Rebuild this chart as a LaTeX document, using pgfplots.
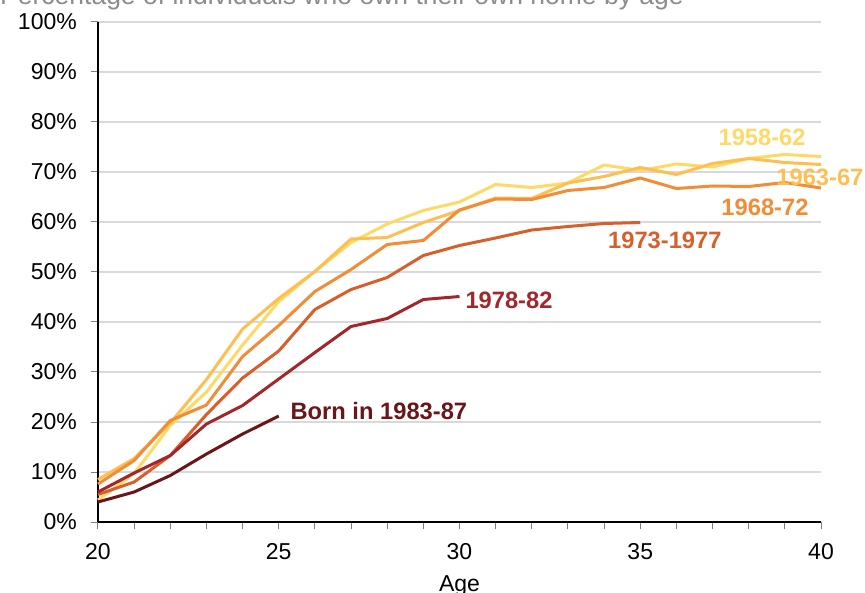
\documentclass[border=0pt]{standalone}
\usepackage{fontspec}
\setmainfont{Liberation Sans}
\usepackage{pgfplots}
\pgfplotsset{compat=1.18}
\definecolor{c58}{HTML}{FFD966}
\definecolor{c63}{HTML}{FFBF50}
\definecolor{c68}{HTML}{F28C36}
\definecolor{c73}{HTML}{D75F2B}
\definecolor{c78}{HTML}{A3262B}
\definecolor{c83}{HTML}{6B1518}
\definecolor{gridc}{HTML}{D9D9D9}
\definecolor{titlec}{HTML}{8C8C8C}
\definecolor{tickc}{HTML}{7F7F7F}

\pgfplotstableread{
age v
20 4.4
21 9.7
22 19.3
23 26.0
24 35.4
25 44.1
26 50.1
27 55.9
28 59.6
29 62.3
30 64.0
31 67.5
32 66.9
33 67.8
34 71.4
35 70.3
36 71.6
37 71.0
38 72.7
39 73.5
40 73.1
}\dA
\pgfplotstableread{
age v
20 8.5
21 12.7
22 19.8
23 28.5
24 38.6
25 44.7
26 50.1
27 56.6
28 56.9
29 59.9
30 62.3
31 64.8
32 64.7
33 67.8
34 69.1
35 70.9
36 69.5
37 71.7
38 72.7
39 71.9
40 71.5
}\dB
\pgfplotstableread{
age v
20 7.6
21 12.3
22 20.3
23 23.4
24 33.1
25 39.3
26 46.1
27 50.5
28 55.5
29 56.3
30 62.4
31 64.6
32 64.5
33 66.3
34 66.9
35 68.8
36 66.7
37 67.2
38 67.1
39 67.9
40 66.8
}\dC
\pgfplotstableread{
age v
20 5.5
21 8.0
22 13.3
23 21.5
24 28.8
25 34.2
26 42.5
27 46.5
28 48.9
29 53.3
30 55.3
31 56.8
32 58.4
33 59.1
34 59.7
35 59.9
}\dD
\pgfplotstableread{
age v
20 6.0
21 9.8
22 13.3
23 19.6
24 23.3
25 28.6
26 33.9
27 39.1
28 40.7
29 44.5
30 45.1
}\dE
\pgfplotstableread{
age v
20 4.0
21 6.0
22 9.3
23 13.6
24 17.6
25 21.2
}\dF

\begin{document}
\begin{tikzpicture}[x=1pt,y=1pt]
\begin{axis}[
  at={(98pt,70pt)}, anchor=south west,
  scale only axis, width=723pt, height=500pt,
  xmin=20, xmax=40, ymin=0, ymax=100,
  axis lines=left,
  axis line style={-, black, line width=1.2pt},
  xtick={20,25,30,35,40},
  minor xtick={21,22,23,24,26,27,28,29,31,32,33,34,36,37,38,39},
  ytick={0,10,20,30,40,50,60,70,80,90,100},
  yticklabels={0\%,10\%,20\%,30\%,40\%,50\%,60\%,70\%,80\%,90\%,100\%},
  tick align=outside,
  major tick length=7pt, minor tick length=7pt,
  every tick/.style={tickc, line width=1pt},
  ymajorgrids,
  major grid style={gridc, line width=1.5pt},
  clip=false,
  /pgf/number format/assume math mode=true,
  ticklabel style={font=\fontsize{23}{27}\selectfont, inner sep=0pt},
  xticklabel style={yshift=-14pt},
  yticklabel style={xshift=-14pt},
  xlabel={Age},
  xlabel style={font=\fontsize{23}{27}\selectfont, inner sep=0pt, at={(axis description cs:0.5,0)}, anchor=north, yshift=-53pt},
  every axis plot/.append style={line width=3pt, line join=round, no markers},
]
\addplot[c58] table[x=age,y=v] {\dA};
\addplot[c63] table[x=age,y=v] {\dB};
\addplot[c68] table[x=age,y=v] {\dC};
\addplot[c73] table[x=age,y=v] {\dD};
\addplot[c78] table[x=age,y=v] {\dE};
\addplot[c83] table[x=age,y=v] {\dF};
\begin{scope}[every node/.style={font=\fontsize{23.7}{28}\selectfont\bfseries, inner sep=0pt}]
\node[text=c58] at (axis cs:38.37,77.0) {1958-62};
\node[text=c63] at (axis cs:39.97,69.0) {1963-67};
\node[text=c68] at (axis cs:38.45,63.0) {1968-72};
\node[text=c73] at (axis cs:35.68,56.4) {1973-1977};
\node[text=c78] at (axis cs:31.37,44.4) {1978-82};
\node[text=c83] at (axis cs:27.77,22.2) {Born in 1983-87};
\end{scope}
\end{axis}
\node[anchor=base west, inner sep=0pt, text=titlec, font=\fontsize{26.5}{30}\selectfont] at (0,587) {Percentage of individuals who own their own home by age};
\pgfresetboundingbox
\path[use as bounding box] (0,0) rectangle (865,592);
\end{tikzpicture}
\end{document}
